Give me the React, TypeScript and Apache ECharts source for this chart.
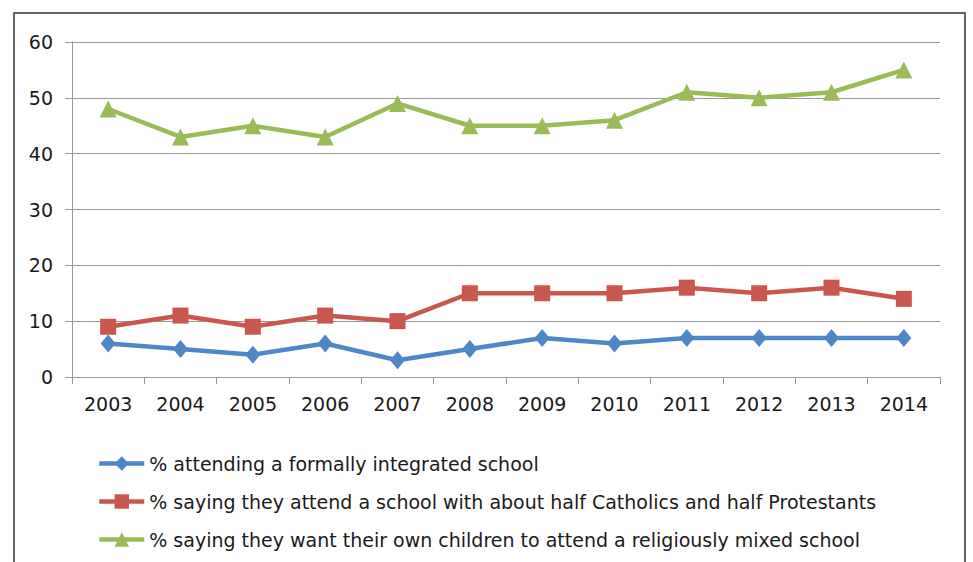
import React, { useEffect, useRef } from "react";
import * as echarts from "echarts";

const years = ["2003", "2004", "2005", "2006", "2007", "2008", "2009", "2010", "2011", "2012", "2013", "2014"];
const integrated = [6, 5, 4, 6, 3, 5, 7, 6, 7, 7, 7, 7];
const halfHalf = [9, 11, 9, 11, 10, 15, 15, 15, 16, 15, 16, 14];
const wantMixed = [48, 43, 45, 43, 49, 45, 45, 46, 51, 50, 51, 55];
const seriesNames = [
  "% attending a formally integrated school",
  "% saying they attend a school with about half Catholics and half Protestants",
  "% saying they want their own children to attend a religiously mixed school",
];

const FONT = "'DejaVu Sans', 'Liberation Sans', Arial, sans-serif";

export default function App() {
  const ref = useRef<HTMLDivElement>(null);
  useEffect(() => {
    if (!ref.current) return;
    const chart = echarts.init(ref.current, undefined, { renderer: "svg" });
    const mk = (name: string, data: number[], color: string, symbol: string, size: number | number[]) => ({
      name,
      type: "line",
      data,
      symbol,
      symbolSize: size,
      lineStyle: { color, width: 4.5 },
      itemStyle: { color },
      emphasis: { disabled: true },
    });
    chart.setOption({
      animation: false,
      textStyle: { fontFamily: FONT },
      graphic: [
        {
          type: "rect",
          shape: { x: 14, y: 13, width: 951, height: 570 },
          style: { fill: "none", stroke: "#333", lineWidth: 1.5 },
          silent: true,
        },
      ],
      grid: { left: 72, right: 33, top: 42, bottom: 185, containLabel: false },
      xAxis: {
        type: "category",
        data: years,
        boundaryGap: true,
        axisLine: { lineStyle: { color: "#999", width: 1 } },
        axisTick: { show: true, interval: 0, length: 7, lineStyle: { color: "#999" } },
        axisLabel: { color: "#1a1a1a", fontSize: 19, margin: 17, fontFamily: FONT, interval: 0 },
        splitLine: { show: false },
      },
      yAxis: {
        type: "value",
        min: 0,
        max: 60,
        interval: 10,
        axisLine: { show: true, lineStyle: { color: "#999", width: 1 } },
        axisTick: { show: true, length: 7, lineStyle: { color: "#999" } },
        axisLabel: { color: "#1a1a1a", fontSize: 19, margin: 19, fontFamily: FONT },
        splitLine: { show: true, lineStyle: { color: "#999", width: 1 } },
      },
      legend: {
        orient: "vertical",
        left: 97,
        top: 454,
        padding: 0,
        itemWidth: 45,
        itemHeight: 18,
        itemGap: 19,
        lineStyle: { width: 4.5 },
        textStyle: { fontSize: 19, color: "#1a1a1a", fontFamily: FONT },
        data: seriesNames,
      },
      series: [
        mk(seriesNames[0], integrated, "#4F86C6", "diamond", [15, 18]),
        mk(seriesNames[1], halfHalf, "#C9574E", "rect", 16),
        mk(seriesNames[2], wantMixed, "#9BBB59", "triangle", 17),
      ],
    });
    return () => chart.dispose();
  }, []);
  return (
    <div
      ref={ref}
      style={{ position: "fixed", left: 0, top: 0, width: 973, height: 562, background: "#fff" }}
    />
  );
}
